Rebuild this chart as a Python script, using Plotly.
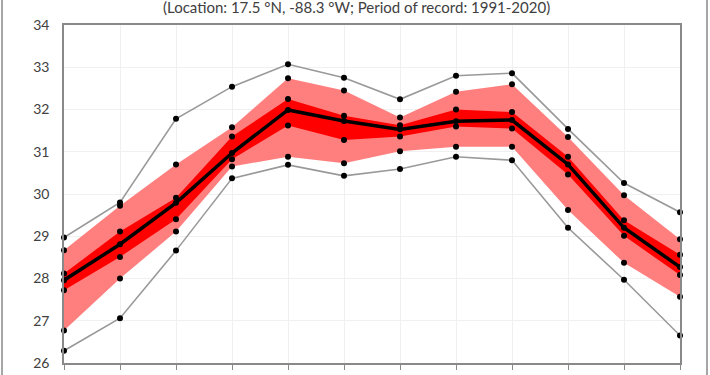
import plotly.graph_objects as go

months = ["Jan", "Feb", "Mar", "Apr", "May", "Jun", "Jul", "Aug", "Sep", "Oct", "Nov", "Dec"]

t_max = [28.97, 29.80, 31.78, 32.54, 33.07, 32.75, 32.24, 32.80, 32.86, 31.54, 30.26, 29.57]
light_upper = [28.67, 29.72, 30.70, 31.58, 32.74, 32.45, 31.81, 32.42, 32.60, 31.35, 29.97, 28.93]
dark_upper = [28.12, 29.11, 29.91, 31.36, 32.25, 31.85, 31.63, 32.00, 31.94, 30.88, 29.38, 28.56]
t_mean = [27.96, 28.81, 29.79, 30.97, 31.99, 31.73, 31.53, 31.72, 31.75, 30.70, 29.20, 28.27]
dark_lower = [27.72, 28.51, 29.40, 30.82, 31.62, 31.28, 31.36, 31.60, 31.55, 30.46, 29.01, 28.08]
light_lower = [26.77, 28.00, 29.11, 30.65, 30.88, 30.73, 31.01, 31.12, 31.12, 29.62, 28.37, 27.57]
t_min = [26.29, 27.06, 28.66, 30.37, 30.69, 30.43, 30.59, 30.88, 30.80, 29.20, 27.97, 26.65]

subtitle = "(Location: 17.5 °N, -88.3 °W; Period of record: 1991-2020)"

FONT = "Lato, 'Open Sans', sans-serif"

fig = go.Figure()

# light band
fig.add_trace(go.Scatter(x=months, y=light_lower, mode="lines", line=dict(width=0, color="rgba(0,0,0,0)"),
                         showlegend=False, hoverinfo="skip"))
fig.add_trace(go.Scatter(x=months, y=light_upper, mode="lines", line=dict(width=0, color="rgba(0,0,0,0)"),
                         fill="tonexty", fillcolor="#FF7F7F", showlegend=False, hoverinfo="skip"))
# dark band
fig.add_trace(go.Scatter(x=months, y=dark_lower, mode="lines", line=dict(width=0, color="rgba(0,0,0,0)"),
                         showlegend=False, hoverinfo="skip"))
fig.add_trace(go.Scatter(x=months, y=dark_upper, mode="lines", line=dict(width=0, color="rgba(0,0,0,0)"),
                         fill="tonexty", fillcolor="#FF0000", showlegend=False, hoverinfo="skip"))
# min / max lines
for s in (t_max, t_min):
    fig.add_trace(go.Scatter(x=months, y=s, mode="lines", line=dict(width=1.6, color="#999999"),
                             showlegend=False))
# mean line
fig.add_trace(go.Scatter(x=months, y=t_mean, mode="lines", line=dict(width=3.5, color="#000000"),
                         showlegend=False))
# dots
for s in (t_max, light_upper, dark_upper, t_mean, dark_lower, light_lower, t_min):
    fig.add_trace(go.Scatter(x=months, y=s, mode="markers", marker=dict(size=6, color="#000000"),
                             showlegend=False, cliponaxis=False))

fig.update_layout(
    width=710, height=375,
    margin=dict(l=64, r=30, t=25, b=12),
    paper_bgcolor="white", plot_bgcolor="white",
    font=dict(family=FONT, size=14, color="#404040"),
    showlegend=False,
)
fig.update_xaxes(
    type="category", range=[0, 11], showgrid=True, gridcolor="#f0f0f0", gridwidth=1,
    showline=True, linecolor="#898989", linewidth=1.5, mirror=True,
    ticks="outside", ticklen=5, tickcolor="#898989", tickfont=dict(size=14, color="#404040"),
    zeroline=False, automargin=False,
)
fig.update_yaxes(
    range=[26, 34], dtick=1, showgrid=True, gridcolor="#f0f0f0", gridwidth=1,
    showline=True, linecolor="#898989", linewidth=1.5, mirror=True,
    ticks="", ticklabelstandoff=10, tickfont=dict(size=14, color="#404040"),
    zeroline=False, automargin=False,
)

fig.add_annotation(text=subtitle, xref="paper", yref="paper", x=(356 - 64) / 616, y=(363 - 7) / 338,
                   xanchor="center", yanchor="middle", showarrow=False,
                   font=dict(family=FONT, size=15, color="#404040"))

# outer chart frame
fig.add_shape(type="rect", xref="paper", yref="paper",
              x0=(2 - 64) / 616, x1=(707 - 64) / 616, y0=-0.3, y1=1.3,
              line=dict(color="#898989", width=1.5), fillcolor="rgba(0,0,0,0)", layer="below")

fig.write_html(
    "out.html",
    config={"displayModeBar": False},
    post_script="document.body.style.margin='0';document.body.style.overflow='hidden';",
)
